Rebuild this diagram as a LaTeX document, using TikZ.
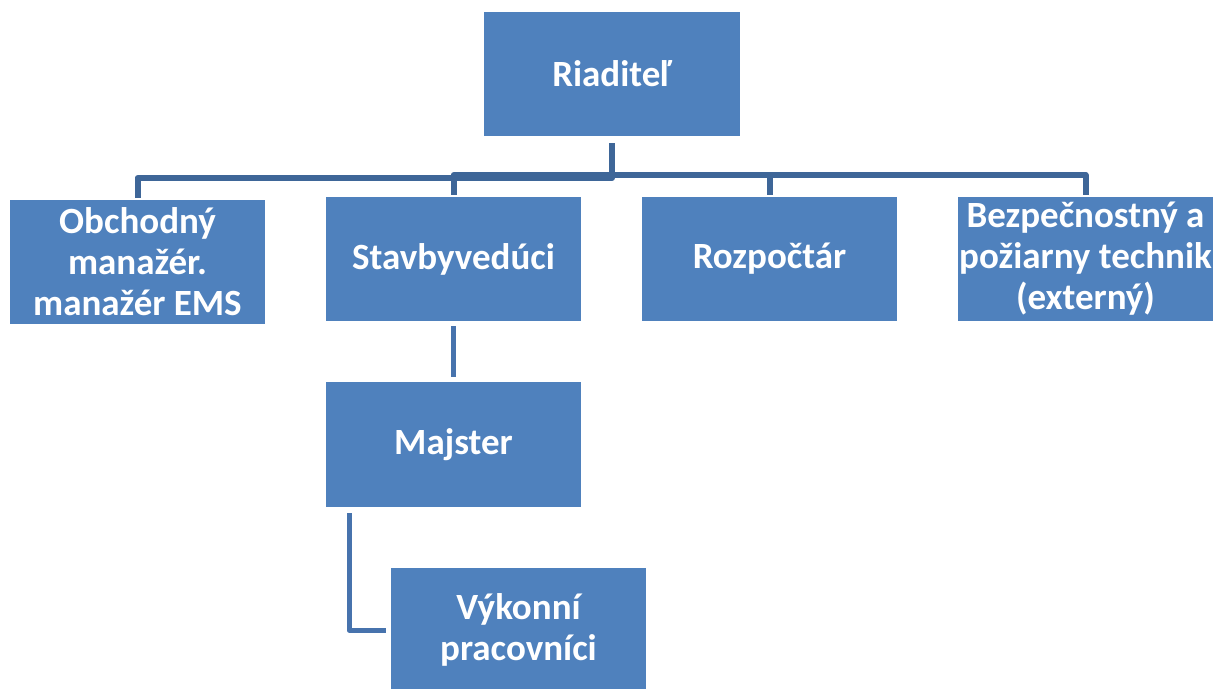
\documentclass[tikz,border=0pt]{standalone}
\usepackage{fontspec}
\setmainfont{Carlito}
\usetikzlibrary{calc}
\definecolor{boxblue}{HTML}{4F81BD}
\definecolor{topline}{HTML}{3E6698}
\definecolor{lowline}{HTML}{4773AD}
\begin{document}
\begin{tikzpicture}[x=1pt,y=-1pt,
  box/.style={fill=boxblue,draw=none,inner sep=0pt,outer sep=0pt,
    minimum width=255pt,minimum height=124pt,anchor=north west,
    text=white,align=center,font=\fontsize{37}{41}\selectfont\bfseries},
  conn/.style={draw=topline,line width=6pt,line join=round},
  conn2/.style={draw=lowline,line width=5pt,line join=round}]
\useasboundingbox (0,0) rectangle (1217,688);
\node[box,minimum width=256pt] (r) at (484,12) {Riaditeľ};
\node[box] (ob) at (10,200) {Obchodný\\manažér.\\manažér EMS};
\node[box] (st) at (326,197) {Stavbyvedúci};
\node[box] (rz) at (642,197) {Rozpočtár};
\node[box] (bz) at (958,197) {Bezpečnostný a\\požiarny technik\\(externý)};
\node[box,minimum height=125pt] (mj) at (326,382) {Majster};
\node[box] (vk) at (391,568) {Výkonní\\pracovníci};
\coordinate (busA) at (0,171);
\coordinate (busB) at (0,168);
\draw[conn] ([yshift=-7pt]r.south) -- ([yshift=-7pt]r.south |- busA) -| ([yshift=2pt]ob.north);
\draw[conn] ([yshift=-7pt]r.south) -- ([yshift=-7pt]r.south |- busB) -| ([yshift=2pt]st.north);
\draw[conn] ([yshift=-7pt]r.south) -- ([yshift=-7pt]r.south |- busB) -| ([yshift=2pt]rz.north);
\draw[conn] ([yshift=-7pt]r.south) -- ([yshift=-7pt]r.south |- busB) -| ([yshift=2pt]bz.north);
\draw[conn2] ([yshift=-5pt]st.south) -- ([yshift=5pt]mj.north);
\draw[conn2] ($(mj.south west)+(23,6)$) |- ($(vk.west)+(-5,0)$);
\end{tikzpicture}
\end{document}
